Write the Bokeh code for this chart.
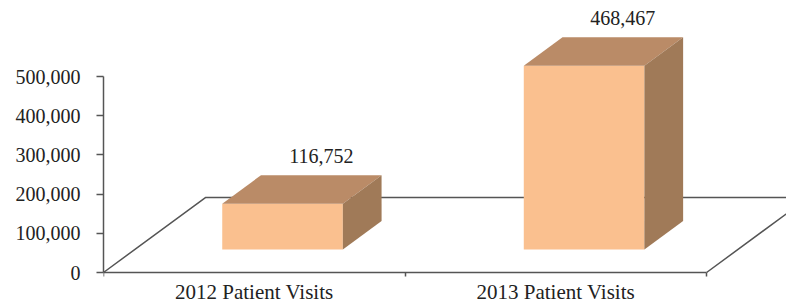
from bokeh.plotting import figure
from bokeh.models import Range1d, FixedTicker, NumeralTickFormatter, ColumnDataSource, LinearAxis
from bokeh.core.properties import value
from bokeh.embed import file_html
from bokeh.resources import INLINE

# ---- data ----
categories = ["2012 Patient Visits", "2013 Patient Visits"]
visits = [116752, 468467]
value_labels = ["116,752", "468,467"]
y_ticks = [0, 100000, 200000, 300000, 400000, 500000]

# ---- styling / geometry constants ----
FONT = "Liberation Serif"
FS = "20px"
FS_CAT = "21px"
FRONT = "#FAC08F"
TOP = "#BA8B67"
SIDE = "#A07A58"
FLOOR = "#555555"
TXT = "#222222"

FLOOR_DX = 0.338      # floor depth, x units
FLOOR_DY = 191300     # floor depth, y units
FRONT_FRAC = 0.307    # bar front face depth position (fraction of floor depth)
BAR_FRAC = 0.38       # bar depth (fraction of floor depth)
BAR_W = 0.40
BAR_SHIFT = -0.01

p = figure(width=786, height=306, output_backend="svg", toolbar_location=None,
           x_range=Range1d(0, 2.265), y_range=Range1d(-86700, 693900),
           min_border_left=103, min_border_right=0, min_border_top=0,
           min_border_bottom=0, x_axis_type=None)
p.outline_line_color = None
p.grid.visible = False
p.background_fill_color = "white"

# floor (back edges); front edge is the x axis
p.line([0, FLOOR_DX, 2 + FLOOR_DX, 2], [0, FLOOR_DY, FLOOR_DY, 0],
       line_color=FLOOR, line_width=1.5)

# 3D bars
cx = [i + 0.5 for i in range(len(categories))]
bdx = BAR_FRAC * FLOOR_DX
bdy = BAR_FRAC * FLOOR_DY
base = FRONT_FRAC * FLOOR_DY
lefts = [c + FRONT_FRAC * FLOOR_DX + BAR_SHIFT - BAR_W / 2 for c in cx]
rights = [l + BAR_W for l in lefts]
tops = [base + v for v in visits]

top_xs, top_ys, side_xs, side_ys = [], [], [], []
for l, r, t in zip(lefts, rights, tops):
    top_xs.append([l, r, r + bdx, l + bdx])
    top_ys.append([t, t, t + bdy, t + bdy])
    side_xs.append([r, r + bdx, r + bdx, r])
    side_ys.append([base, base + bdy, t + bdy, t])

p.quad(left=lefts, right=rights, bottom=[base] * len(visits), top=tops,
       fill_color=FRONT, line_color=None)
p.patches(top_xs, top_ys, fill_color=TOP, line_color=None)
p.patches(side_xs, side_ys, fill_color=SIDE, line_color=None)

# value labels
lab = ColumnDataSource(dict(x=[(l + r) / 2 + bdx for l, r in zip(lefts, rights)],
                            y=[t + bdy for t in tops], text=value_labels))
p.text(x="x", y="y", text="text", source=lab, text_align="center",
       text_baseline="alphabetic", y_offset=-19,
       text_font=value(FONT), text_font_size=FS, text_color=TXT)

# y axis
ya = p.yaxis[0]
ya.ticker = FixedTicker(ticks=y_ticks)
ya.formatter = NumeralTickFormatter(format="0,0")
ya.bounds = (0, 500000)
ya.axis_line_color = FLOOR
ya.axis_line_width = 1.5
ya.major_tick_line_color = FLOOR
ya.major_tick_line_width = 1.5
ya.major_tick_out = 7
ya.major_tick_in = 0
ya.minor_tick_line_color = None
ya.major_label_standoff = 16
ya.major_label_text_font = FONT
ya.major_label_text_font_size = FS
ya.major_label_text_color = TXT

# x axis (front floor edge), fixed at y = 0
xa = LinearAxis(ticker=FixedTicker(ticks=cx, minor_ticks=[0, 1, 2]),
                major_label_overrides={c: n for c, n in zip(cx, categories)},
                fixed_location=0)
xa.bounds = (0, 2)
xa.axis_line_color = FLOOR
xa.axis_line_width = 1.5
xa.major_tick_line_color = None
xa.major_tick_out = 0
xa.major_tick_in = 0
xa.minor_tick_line_color = FLOOR
xa.minor_tick_line_width = 1.5
xa.minor_tick_out = 4
xa.minor_tick_in = 0
xa.major_label_standoff = 3
xa.major_label_text_font = FONT
xa.major_label_text_font_size = FS_CAT
xa.major_label_text_color = TXT
p.add_layout(xa, "below")

open("out.html", "w").write(file_html(p, INLINE))
